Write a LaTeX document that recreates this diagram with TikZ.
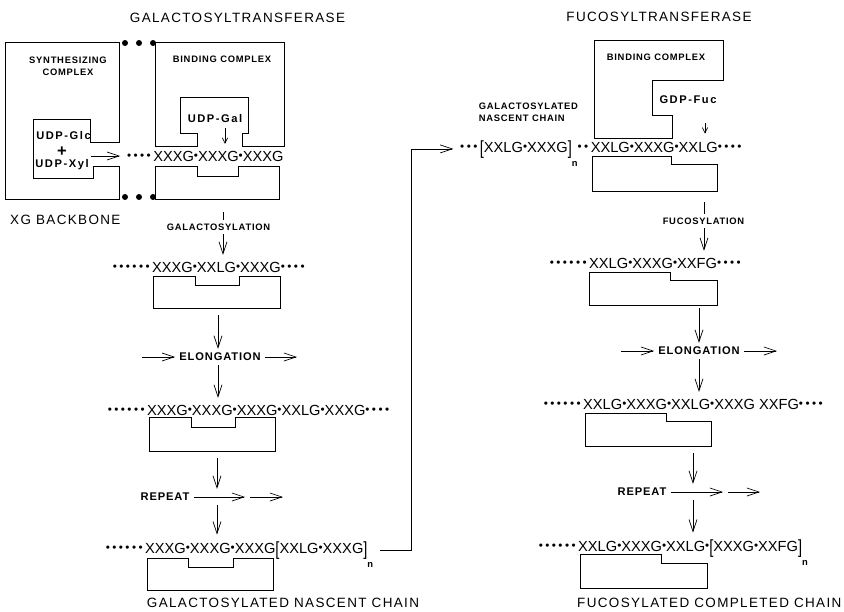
\documentclass[tikz,border=0pt]{standalone}
\usepackage{fontspec}
\setmainfont{Liberation Sans}
\newfontfamily\widefam[LetterSpace=10]{Liberation Sans}
\newfontfamily\tagfam[LetterSpace=8]{Liberation Sans}
\newfontfamily\pktfam[LetterSpace=14]{Liberation Sans}
\usepackage{graphicx}
\usepackage{tikz}
\usetikzlibrary{arrows.meta, calc}
\newcommand{\seqtext}{\fontsize{12.5}{14}\selectfont}
\newcommand{\headtext}{\widefam\fontsize{11.5}{13}\selectfont}
\newcommand{\tagtext}{\tagfam\bfseries\fontsize{8}{10.2}\selectfont}
\newcommand{\stagetext}{\tagfam\bfseries\fontsize{9.5}{11}\selectfont}
\newcommand{\pockettext}{\pktfam\bfseries\fontsize{9.5}{11}\selectfont}
\newcommand{\sd}{\raisebox{0.07em}{\scalebox{0.8}{•}}}
\newcommand{\ld}{\sd\kern2.1pt}
\newcommand{\lbr}{\raisebox{-2pt}{\scalebox{1}[1.3]{[}}}
\newcommand{\rbr}{\raisebox{-2pt}{\scalebox{1}[1.3]{]}}\raisebox{-12pt}{\fontsize{8}{8}\selectfont\bfseries n}}

\begin{document}
\begin{tikzpicture}[x=0.03cm, y=-0.03cm,
  seq/.style={font=\seqtext, inner sep=2mm, anchor=base west},
  heading/.style={font=\headtext, inner sep=0pt},
  tag/.style={font=\tagtext, inner sep=1.1mm, align=center},
  stage/.style={font=\stagetext, inner sep=1.2mm},
  pocket/.style={font=\pockettext, inner sep=0pt},
  complex/.style={line width=0.7pt, line join=miter},
  flow/.style={-{Straight Barb[length=3.6mm, width=2.4mm]}, line width=0.6pt},
  drip/.style={-{Straight Barb[length=1.6mm, width=1.6mm]}, line width=0.6pt}
]
  \useasboundingbox (0,0) rectangle (844,611);

  \node[heading] (galtr) at (237.5,18) {GALACTOSYLTRANSFERASE};
  \node[heading] (fuctr) at (659,17) {FUCOSYLTRANSFERASE};
  \node[heading, anchor=west] (xgbb) at (10,220) {XG BACKBONE};
  \node[heading] (galnc) at (283,603) {GALACTOSYLATED NASCENT CHAIN};
  \node[heading, anchor=west] (fuccc) at (577,603) {FUCOSYLATED COMPLETED CHAIN};

  \draw[complex] (5,42) -- (119,42) -- (119,142) -- (90,142) -- (90,119) -- (33,119)
    -- (33,178) -- (93,178) -- (93,166) -- (119,166) -- (119,199) -- (5,199) -- cycle;
  \draw[complex] (155,42) -- (284,42) -- (284,146) -- (242,146) -- (242,133) -- (248,133)
    -- (248,97) -- (180,97) -- (180,133) -- (197,133) -- (197,146) -- (155,146) -- cycle;
  \draw[complex] (155,166) -- (197,166) -- (197,176) -- (238,176) -- (238,166) -- (279,166)
    -- (279,199) -- (155,199) -- cycle;
  \fill (125,43) circle[radius=0.9mm] (139,43) circle[radius=0.9mm] (153,43) circle[radius=0.9mm];
  \fill (125,197) circle[radius=0.9mm] (139,197) circle[radius=0.9mm] (153,197) circle[radius=0.9mm];

  \node[tag] (synth) at (68,66) {SYNTHESIZING\\COMPLEX};
  \node[tag] (gbind) at (222,59) {BINDING COMPLEX};
  \node[pocket] (udpglc) at (63.5,136) {UDP-Glc};
  \node[font=\bfseries\fontsize{14}{14}\selectfont, inner sep=0pt] (plus) at (62,152) {+};
  \node[pocket] (udpxyl) at (62,165) {UDP-Xyl};
  \node[pocket] (udpgal) at (215,119) {UDP-Gal};

  \node[seq] (ch1) at (120.1,161) {\ld\ld\ld\ld XXXG\sd XXXG\sd XXXG};
  \coordinate (synout) at (91,156);
  \draw[flow] (synout) -- (synout -| ch1.west);
  \coordinate (galin) at (225,128);
  \draw[drip] (galin) -- (galin |- ch1.north);

  \coordinate (gout) at (223,212);
  \node[tag] (galac) at (218.5,227) {GALACTOSYLATION};
  \draw[line width=0.6pt] (gout) -- (gout |- galac.north);
  \node[seq] (ch2) at (105.9,272) {\ld\ld\ld\ld\ld\ld XXXG\sd XXLG\sd XXXG\ld\ld\ld\ld};
  \draw[flow] (galac.south -| gout) -- (gout |- ch2.north);
  \draw[complex] (153,276) -- (195,276) -- (195,285) -- (239,285) -- (239,276) -- (280,276)
    -- (280,308) -- (153,308) -- cycle;

  \coordinate (g2) at (218,315);
  \node[stage] (elongL) at (220,357) {ELONGATION};
  \draw[flow] (g2) -- (g2 |- elongL.north);
  \coordinate (e1in) at (142,357);
  \coordinate (e1out) at (297,357);
  \draw[flow] (e1in) -- (elongL.west);
  \draw[flow] (elongL.east) -- (e1out);
  \node[seq] (ch3) at (100.9,415) {\ld\ld\ld\ld\ld\ld XXXG\sd XXXG\sd XXXG\sd XXLG\sd XXXG\ld\ld\ld\ld};
  \draw[flow] (elongL.south -| g2) -- (g2 |- ch3.north);
  \draw[complex] (149,417) -- (191,417) -- (191,427) -- (235,427) -- (235,417) -- (275,417)
    -- (275,451) -- (149,451) -- cycle;

  \coordinate (g3) at (217,458);
  \node[stage] (repL) at (165,497) {REPEAT};
  \draw[flow] (g3) -- (g3 |- repL.north);
  \coordinate (r1a) at (245,497);
  \coordinate (r1b) at (250,497);
  \coordinate (r1c) at (283,497);
  \draw[flow] (repL.east) -- (r1a);
  \draw[flow] (r1b) -- (r1c);
  \node[seq] (ch4) at (98.9,553) {\ld\ld\ld\ld\ld\ld XXXG\sd XXXG\sd XXXG\lbr XXLG\sd XXXG\rbr};
  \draw[flow] (repL.south -| g3) -- (g3 |- ch4.north);
  \draw[complex] (147,558) -- (188,558) -- (188,567) -- (233,567) -- (233,558) -- (273,558)
    -- (273,590) -- (147,590) -- cycle;

  \draw[complex] (594,40) -- (723,40) -- (723,80) -- (652,80) -- (652,115) -- (672,115)
    -- (672,138) -- (594,138) -- cycle;
  \node[tag] (fbind) at (656,57) {BINDING COMPLEX};
  \node[pocket] (gdpfuc) at (688,100) {GDP-Fuc};
  \node[tag, anchor=west, align=left] (gnasc) at (475,112) {GALACTOSYLATED\\NASCENT CHAIN};
  \node[seq] (ch5) at (453.3,152) {\ld\ld\ld\lbr XXLG\sd XXXG\rbr\ld\ld XXLG\sd XXXG\sd XXLG\ld\ld\ld\ld};
  \draw[flow] (ch4.mid east) -- ++(31,0) |- (ch5.mid west);
  \coordinate (fucin) at (705,123);
  \draw[drip] (fucin) -- (fucin |- ch5.north);
  \draw[complex] (592,156) -- (671,156) -- (671,164) -- (717,164) -- (717,191) -- (592,191) -- cycle;

  \coordinate (fout) at (704,202);
  \node[tag] (fucos) at (703.5,221) {FUCOSYLATION};
  \draw[line width=0.6pt] (fout) -- (fout |- fucos.north);
  \node[seq] (ch6) at (542.9,268) {\ld\ld\ld\ld\ld\ld XXLG\sd XXXG\sd XXFG\ld\ld\ld\ld};
  \draw[flow] (fucos.south -| fout) -- (fout |- ch6.north);
  \draw[complex] (589,272) -- (670,272) -- (670,280) -- (717,280) -- (717,305) -- (589,305) -- cycle;

  \coordinate (f2) at (699,308);
  \node[stage] (elongR) at (699,351) {ELONGATION};
  \draw[flow] (f2) -- (f2 |- elongR.north);
  \coordinate (e2in) at (621,351);
  \coordinate (e2out) at (777,351);
  \draw[flow] (e2in) -- (elongR.west);
  \draw[flow] (elongR.east) -- (e2out);
  \node[seq] (ch7) at (536.9,409) {\ld\ld\ld\ld\ld\ld XXLG\sd XXXG\sd XXLG\sd XXXG XXFG\ld\ld\ld\ld};
  \draw[flow] (elongR.south -| f2) -- (f2 |- ch7.north);
  \draw[complex] (585,413) -- (666,413) -- (666,421) -- (711,421) -- (711,446) -- (585,446) -- cycle;

  \coordinate (f3) at (693,453);
  \node[stage] (repR) at (642,492) {REPEAT};
  \draw[flow] (f3) -- (f3 |- repR.north);
  \coordinate (r2a) at (723,492);
  \coordinate (r2b) at (728,492);
  \coordinate (r2c) at (760,492);
  \draw[flow] (repR.east) -- (r2a);
  \draw[flow] (r2b) -- (r2c);
  \node[seq] (ch8) at (531.9,551) {\ld\ld\ld\ld\ld\ld XXLG\sd XXXG\sd XXLG\sd\lbr XXXG\sd XXFG\rbr};
  \draw[flow] (repR.south -| f3) -- (f3 |- ch8.north);
  \draw[complex] (580,554) -- (661,554) -- (661,563) -- (707,563) -- (707,588) -- (580,588) -- cycle;
\end{tikzpicture}
\end{document}
